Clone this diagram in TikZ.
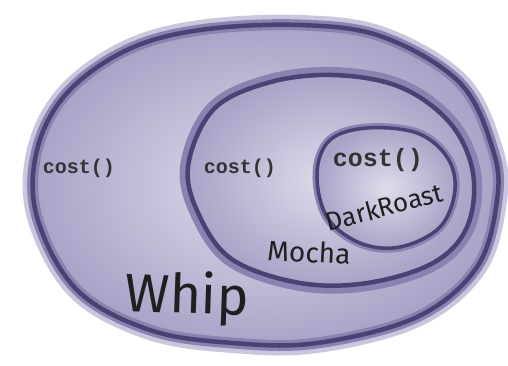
\documentclass[tikz,border=0pt]{standalone}
\usepackage{fontspec}
\setmonofont{Liberation Mono}
\newfontfamily\handfont{Fira Sans}
\definecolor{RingDark}{HTML}{4A4274}
\definecolor{RingHalo}{HTML}{8A83B1}
\definecolor{FillLight}{HTML}{E0DDEB}
\definecolor{FillEdge}{HTML}{A9A3C7}
\definecolor{OuterHaze}{HTML}{CAC6DE}
\tikzset{
  ringline/.style={draw=RingDark, line width=4.5pt},
  ringhalo/.style={draw=RingHalo, line width=11pt},
  layerfill/.style={inner color=FillLight, outer color=FillEdge},
  methodlabel/.style={font=\ttfamily\bfseries\fontsize{20}{20}\selectfont, text=black!80, inner sep=0pt},
  namelabel/.style={font=\handfont, text=black!88, inner sep=0pt}
}
% outlines of the three wrappers
\newcommand\whipshape{plot[smooth cycle, tension=0.6] coordinates {(200,30) (300,25) (383,37) (460,83) (493,150) (497,200) (477,267) (417,317) (317,343) (233,343) (150,330) (77,290) (37,217) (37,150) (67,93) (127,50)}}
\newcommand\mochashape{plot[smooth cycle, tension=0.6] coordinates {(188,167) (213,110) (267,83) (333,75) (400,87) (450,123) (473,173) (467,227) (433,263) (367,283) (300,283) (233,260) (200,217)}}
\newcommand\roastshape{plot[smooth cycle, tension=0.6] coordinates {(317,173) (330,140) (367,128) (417,133) (447,157) (455,190) (440,227) (400,247) (360,243) (327,217)}}
\begin{document}
\begin{tikzpicture}[x=1pt, y=-1pt]
\useasboundingbox (0,0) rectangle (508,365);
\fill[white] (0,0) rectangle (508,365);

% Whip
\fill[OuterHaze] \whipshape;
\draw[OuterHaze, line width=20pt] \whipshape;
\shade[layerfill] \whipshape;
\draw[ringhalo] \whipshape;
\draw[ringline] \whipshape;

% Mocha
\draw[ringhalo, line width=16pt] \mochashape;
\shade[layerfill] \mochashape;
\draw[ringline] \mochashape;

% DarkRoast
\draw[ringhalo, line width=9pt] \roastshape;
\shade[layerfill] \roastshape;
\draw[ringline, line width=3.5pt] \roastshape;

% labels
\node[methodlabel] (whipcost) at (79,168) {cost()};
\node[methodlabel] (mochacost) at (240,168) {cost()};
\node[methodlabel, font=\ttfamily\bfseries\fontsize{25}{25}\selectfont] (roastcost) at (378,160) {cost()};
\node[namelabel, font=\handfont\fontsize{26}{26}\selectfont, rotate=15] (roastname) at (384,207) {DarkRoast};
\node[namelabel, font=\handfont\fontsize{28}{28}\selectfont, rotate=-3] (mochaname) at (309,252) {Mocha};
\node[namelabel, font=\handfont\fontsize{54}{54}\selectfont, rotate=-2] (whipname) at (187,298) {Whip};
\end{tikzpicture}
\end{document}
